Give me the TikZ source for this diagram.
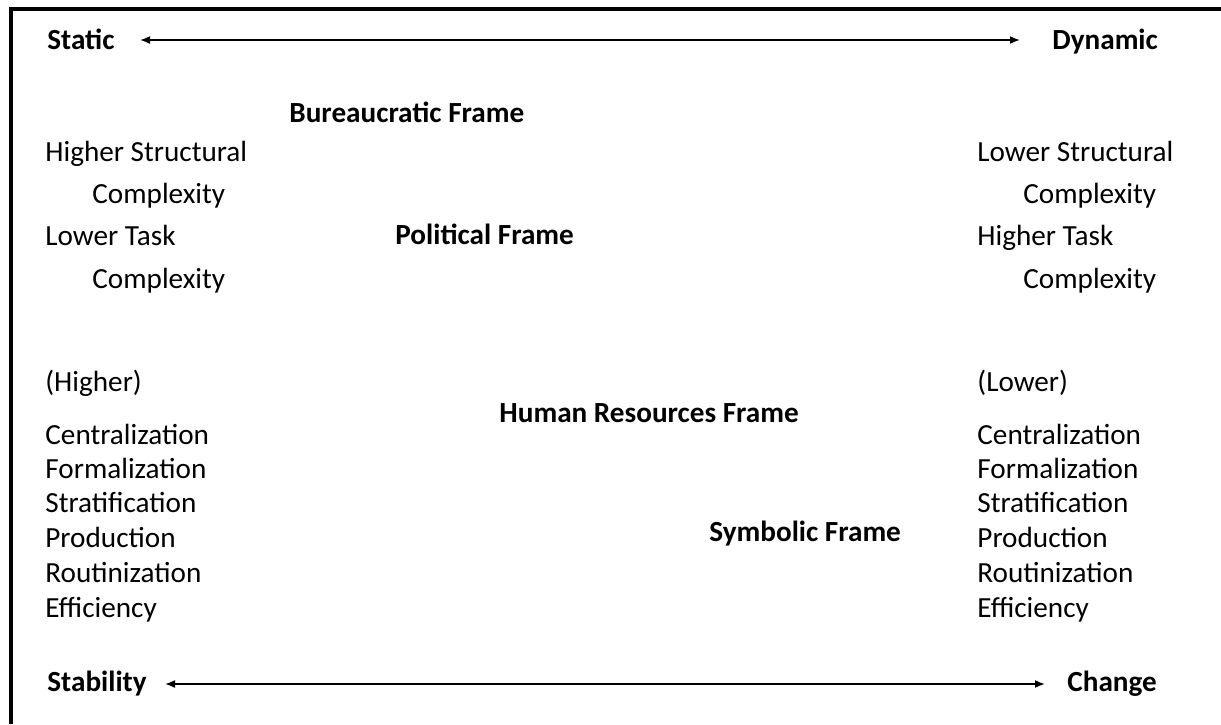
\documentclass[tikz,border=0pt]{standalone}
\usepackage{fontspec}
\setmainfont{Carlito}
\usetikzlibrary{arrows.meta}
\begin{document}
\begin{tikzpicture}[x=0.5pt,y=-0.5pt,
  lbl/.style={anchor=west,inner sep=0pt,yshift=-2.5pt,font=\fontsize{14.6}{17}\selectfont,text height=0.7em,text depth=0.22em},
  blbl/.style={lbl,font=\fontsize{14.6}{17}\selectfont\bfseries},
  axis/.style={thick,{Latex[length=5pt,width=4pt]}-{Latex[length=5pt,width=4pt]}}]
\useasboundingbox (0,0) rectangle (1221,724);
\draw[line width=1.6pt] (11,724) -- (11,9) -- (1221,9);
% top axis
\node[blbl] (static) at (47,40) {Static};
\node[blbl] (dynamic) at (1052,40) {Dynamic};
\coordinate (a1) at (140,40);
\coordinate (a2) at (1020,40);
\draw[axis] (a1) -- (a2);
% frames
\node[blbl] (bur) at (289,113) {Bureaucratic Frame};
\node[blbl] (pol) at (395,235) {Political Frame};
\node[blbl] (hum) at (499,413) {Human Resources Frame};
\node[blbl] (sym) at (709,532) {Symbolic Frame};
% left column
\node[lbl] (hs) at (45,152) {Higher Structural};
\node[lbl] (c1) at (92,194) {Complexity};
\node[lbl] (lt) at (45,236) {Lower Task};
\node[lbl] (c2) at (92,279) {Complexity};
\node[lbl] (hi) at (45,382) {(Higher)};
\node[lbl] (l1) at (45,435) {Centralization};
\node[lbl] (l2) at (45,469) {Formalization};
\node[lbl] (l3) at (45,503) {Stratification};
\node[lbl] (l4) at (45,538) {Production};
\node[lbl] (l5) at (45,573) {Routinization};
\node[lbl] (l6) at (45,608) {Efficiency};
% right column
\node[lbl] (ls) at (977,152) {Lower Structural};
\node[lbl] (c3) at (1023,194) {Complexity};
\node[lbl] (ht) at (977,236) {Higher Task};
\node[lbl] (c4) at (1023,279) {Complexity};
\node[lbl] (lo) at (977,382) {(Lower)};
\node[lbl] (r1) at (977,435) {Centralization};
\node[lbl] (r2) at (977,469) {Formalization};
\node[lbl] (r3) at (977,503) {Stratification};
\node[lbl] (r4) at (977,538) {Production};
\node[lbl] (r5) at (977,573) {Routinization};
\node[lbl] (r6) at (977,608) {Efficiency};
% bottom axis
\node[blbl] (stab) at (47,682) {Stability};
\node[blbl] (chg) at (1067,682) {Change};
\coordinate (b1) at (165,684);
\coordinate (b2) at (1045,684);
\draw[axis] (b1) -- (b2);
\end{tikzpicture}
\end{document}
